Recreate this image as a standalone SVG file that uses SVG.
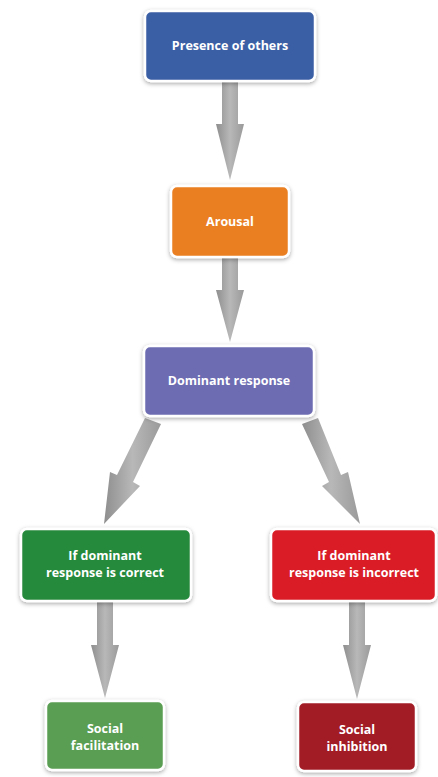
<svg xmlns="http://www.w3.org/2000/svg" width="438" height="777" viewBox="0 0 438 777">
<defs>
<filter id="sh" x="-10%" y="-10%" width="120%" height="130%">
<feDropShadow dx="0" dy="1.5" stdDeviation="2" flood-color="#000" flood-opacity="0.35"/>
</filter>
<linearGradient id="ag" x1="0" y1="0" x2="1" y2="0">
<stop offset="0" stop-color="#8e8e8e"/>
<stop offset="0.5" stop-color="#b8b8b8"/>
<stop offset="1" stop-color="#9a9a9a"/>
</linearGradient>
</defs>
<style>
.box{stroke:#fff;stroke-width:2.5;filter:url(#sh)}
.t{font-family:"Open Sans","Liberation Sans",sans-serif;font-weight:bold;font-size:12.5px;fill:#fff;text-anchor:middle}
.a{fill:url(#ag)}
</style>
<rect width="438" height="777" fill="#fff"/>
<g id="connectors">
<polygon class="a" points="222,82 238,82 238,124 244,124 230,180 216,124 222,124"/>
<polygon class="a" points="222,258 238,258 238,290 244,290 230,342 216,290 222,290"/>
<polygon class="a" points="145,418 161,424 133,482 140,486 104,524 110,472 117,475"/>
<polygon class="a" points="302,424 318,418 341,475 348,472 360,524 322,486 329,482"/>
<polygon class="a" points="97,602 113,602 113,645 119,645 105,698 91,645 97,645"/>
<polygon class="a" points="349,602 365,602 365,645 371,645 357,699 343,645 349,645"/>
</g>
<g id="n1"><rect class="box" x="145" y="11" width="170" height="70" rx="6" fill="#3b5ea5"/><text class="t" x="230" y="50">Presence of others</text></g>
<g id="n2"><rect class="box" x="171" y="186" width="118" height="71" rx="6" fill="#ea7f22"/><text class="t" x="230" y="226">Arousal</text></g>
<g id="n3"><rect class="box" x="144" y="346" width="170" height="70" rx="6" fill="#6d6cb2"/><text class="t" x="229" y="385">Dominant response</text></g>
<g id="n4"><rect class="box" x="21" y="529" width="170" height="72" rx="6" fill="#288a3e"/><text class="t" x="105" y="560">If dominant</text><text class="t" x="105" y="577">response is correct</text></g>
<g id="n5"><rect class="box" x="271" y="529" width="165" height="72" rx="6" fill="#d91f27"/><text class="t" x="354" y="560">If dominant</text><text class="t" x="354" y="577">response is incorrect</text></g>
<g id="n6"><rect class="box" x="46" y="701" width="118" height="69" rx="6" fill="#5a9e52"/><text class="t" x="105" y="733">Social</text><text class="t" x="105" y="750">facilitation</text></g>
<g id="n7"><rect class="box" x="298" y="702" width="118" height="69" rx="6" fill="#a21d25"/><text class="t" x="357" y="734">Social</text><text class="t" x="357" y="751">inhibition</text></g>
</svg>
